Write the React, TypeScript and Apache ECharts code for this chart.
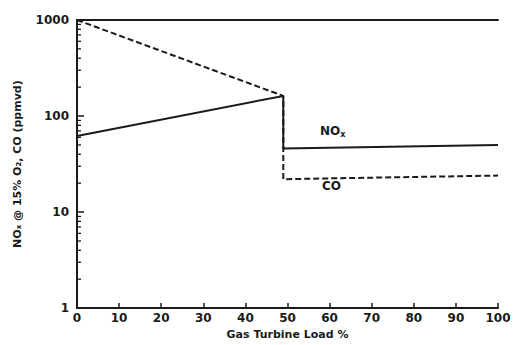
import React, { useEffect, useRef } from "react";
import * as echarts from "echarts";

const noxData: [number, number][] = [[0, 62], [49, 162], [49, 46], [100, 50]];
const coData: [number, number][] = [[0, 1000], [49, 162], [49, 22], [100, 24]];
const yMajor = [1, 10, 100, 1000];
const yMinor = [2, 3, 4, 5, 6, 7, 8, 9, 20, 30, 40, 50, 60, 70, 80, 90, 200, 300, 400, 500, 600, 700, 800, 900];

const FONT = "DejaVu Sans";
const INK = "#1a1a1a";

export default function App() {
  const ref = useRef<HTMLDivElement>(null);
  useEffect(() => {
    if (!ref.current) return;
    const chart = echarts.init(ref.current, undefined, { renderer: "svg" });
    chart.setOption({
      animation: false,
      backgroundColor: "#fff",
      grid: { left: 77, right: 21, top: 20, bottom: 33 },
      xAxis: [
        {
          type: "value",
          min: 0,
          max: 100,
          interval: 10,
          name: "Gas Turbine Load %",
          nameLocation: "middle",
          nameGap: 15,
          nameTextStyle: { fontFamily: FONT, fontWeight: "bold", fontSize: 11, color: INK },
          axisLine: { show: true, lineStyle: { color: INK, width: 2 } },
          axisTick: { show: true, inside: true, length: 5, lineStyle: { color: INK, width: 1.5 } },
          axisLabel: { fontFamily: FONT, fontWeight: "bold", fontSize: 12, color: INK, margin: 4 },
          splitLine: { show: false },
        },
        {
          type: "value",
          position: "top",
          min: 0,
          max: 100,
          axisLine: { show: true, lineStyle: { color: INK, width: 2 } },
          axisTick: { show: false },
          axisLabel: { show: false },
          splitLine: { show: false },
        },
      ],
      yAxis: [
        {
          type: "log",
          logBase: 10,
          min: 1,
          max: 1000,
          name: "NOₓ @ 15% O₂, CO (ppmvd)",
          nameLocation: "middle",
          nameGap: 54,
          nameTextStyle: { fontFamily: FONT, fontWeight: "bold", fontSize: 11, color: INK },
          axisLine: { show: true, lineStyle: { color: INK, width: 2 } },
          axisTick: { show: true, inside: true, length: 7, lineStyle: { color: INK, width: 1.5 } },
          axisLabel: {
            fontFamily: FONT, fontWeight: "bold", fontSize: 12, color: INK, margin: 8,
            formatter: (v: number) => (yMajor.includes(Math.round(v)) ? String(Math.round(v)) : ""),
          },
          splitLine: { show: false },
        },
        {
          type: "log",
          position: "right",
          logBase: 10,
          min: 1,
          max: 1000,
          axisLine: { show: true, lineStyle: { color: INK, width: 2 } },
          axisTick: { show: false },
          axisLabel: { show: false },
          splitLine: { show: false },
        },
      ],
      series: [
        {
          type: "line",
          data: noxData,
          symbol: "none",
          lineStyle: { color: INK, width: 2 },
          z: 3,
        },
        {
          type: "line",
          data: coData,
          symbol: "none",
          lineStyle: { color: INK, width: 2, type: [6, 3] },
          z: 2,
        },
        {
          type: "custom",
          data: yMinor.map((v) => [0, v]),
          encode: { x: 0, y: 1 },
          clip: false,
          renderItem: (params: any, api: any) => {
            const p = api.coord([0, api.value(1)]);
            return {
              type: "line",
              shape: { x1: p[0], y1: p[1], x2: p[0] + 4, y2: p[1] },
              style: { stroke: INK, lineWidth: 1.3 },
            };
          },
          silent: true,
          z: 4,
        },
      ],
      graphic: [
        {
          type: "text",
          x: 320,
          y: 124,
          style: {
            text: "NO{s|x}",
            fill: INK,
            font: `bold 12px "${FONT}"`,
            rich: { s: { fontSize: 8, fontWeight: "bold", fontFamily: FONT, padding: [6, 0, 0, 0], fill: INK } },
          },
        },
        {
          type: "text",
          x: 322,
          y: 180,
          style: { text: "CO", fill: INK, font: `bold 12px "${FONT}"` },
        },
      ],
    });
    return () => chart.dispose();
  }, []);
  return <div ref={ref} style={{ position: "absolute", left: 0, top: 0, width: 519, height: 345 }} />;
}
